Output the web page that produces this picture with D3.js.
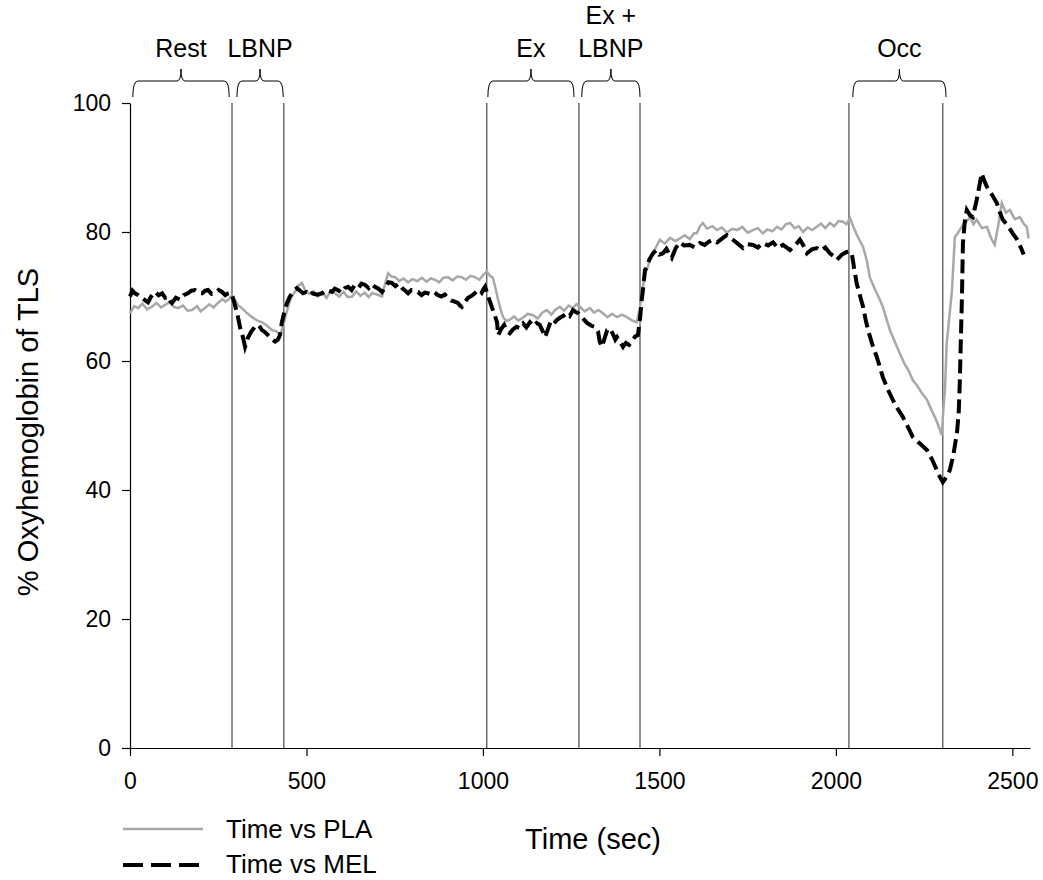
<!DOCTYPE html>
<html>
<head>
<meta charset="utf-8">
<script src="https://cdn.jsdelivr.net/npm/d3@7"></script>
<style>
  body { margin: 0; background: #fff; }
  svg { font-family: Arial, "Liberation Sans", sans-serif; }
  .axis text { font-size: 23px; fill: #000; }
  .axis path, .axis line { stroke: #000; stroke-width: 1.2; }
</style>
</head>
<body>
<div id="chart"></div>
<script>
const width = 1043, height = 880;

// phase boundaries (sec) and bracket labels
const phaseLines = [289, 436, 1011, 1272, 1445, 2037, 2303];
const phaseNames = [['Rest'], ['LBNP'], ['Ex'], ['Ex +', 'LBNP'], ['Occ']];
const phaseStart = [8, 303, 1014, 1280, 2048];
const phaseEnd = [281, 434, 1258, 1445, 2312];

const xTicks = [0, 500, 1000, 1500, 2000, 2500];
const yTicks = [0, 20, 40, 60, 80, 100];

// PLA series (gray, solid)
const plaTime = [0, 12, 23, 35, 48, 62, 75, 88, 99, 112, 124, 136, 150, 163, 176, 190, 200, 212, 225, 237,
  249, 262, 270, 278, 289, 297, 307, 317, 330, 346, 360, 374, 388, 402, 415, 425, 433, 440, 448, 457,
  467, 476, 487, 496, 508, 520, 533, 545, 557, 569, 581, 593, 605, 617, 629, 641, 653, 665, 676, 686,
  700, 714, 722, 731, 741, 751, 763, 775, 788, 800, 814, 827, 840, 852, 864, 876, 888, 901, 914, 927,
  940, 952, 965, 977, 990, 1000, 1011, 1020, 1028, 1036, 1043, 1050, 1057, 1066, 1076, 1088, 1100, 1113, 1127, 1142,
  1155, 1168, 1181, 1194, 1206, 1218, 1230, 1243, 1255, 1265, 1275, 1288, 1303, 1315, 1327, 1340, 1353, 1366, 1380, 1394,
  1408, 1422, 1436, 1445, 1453, 1460, 1467, 1475, 1482, 1490, 1501, 1515, 1530, 1545, 1558, 1572, 1586, 1598, 1606, 1615,
  1623, 1635, 1650, 1663, 1677, 1691, 1706, 1720, 1735, 1750, 1765, 1779, 1793, 1806, 1820, 1833, 1846, 1858, 1870, 1883,
  1895, 1907, 1920, 1933, 1946, 1958, 1970, 1983, 1995, 2008, 2020, 2030, 2040, 2048, 2060, 2077, 2088, 2096, 2110, 2122,
  2133, 2143, 2153, 2167, 2181, 2195, 2207, 2218, 2230, 2244, 2258, 2270, 2283, 2295, 2300, 2305, 2309, 2314, 2320, 2329,
  2337, 2345, 2357, 2368, 2380, 2390, 2399, 2414, 2428, 2440, 2450, 2460, 2470, 2482, 2493, 2507, 2521, 2533, 2541, 2546];
const plaValue = [67.4, 68.5, 68.2, 68.9, 68.0, 68.4, 69.0, 68.3, 68.7, 69.1, 68.4, 68.2, 68.6, 67.8, 67.9, 68.5, 67.7, 68.2, 68.8, 68.3,
  69.0, 69.6, 69.2, 69.5, 70.2, 69.5, 68.6, 68.2, 67.5, 66.8, 66.3, 66.0, 65.5, 64.8, 64.6, 64.0, 65.3, 66.8, 68.4, 69.9,
  70.7, 71.6, 72.1, 71.0, 70.4, 70.8, 70.0, 70.6, 69.8, 70.9, 70.5, 70.0, 70.7, 69.9, 70.0, 70.8, 70.1, 70.6, 69.9, 70.5,
  70.3, 70.0, 71.8, 73.6, 73.1, 73.0, 72.4, 72.8, 72.2, 72.7, 72.4, 72.9, 72.3, 72.8, 72.6, 72.2, 72.9, 73.0, 72.5, 73.1,
  73.0, 72.6, 73.2, 73.0, 72.6, 73.3, 73.9, 73.2, 72.9, 71.2, 69.5, 68.0, 66.8, 66.2, 66.4, 66.9, 66.3, 66.7, 67.3, 67.1,
  66.6, 67.5, 67.9, 67.2, 68.0, 68.4, 67.8, 68.6, 68.2, 68.8, 68.4, 67.7, 68.2, 67.5, 67.9, 67.4, 66.8, 67.3, 66.8, 67.2,
  66.8, 66.3, 66.0, 68.4, 71.5, 73.5, 74.6, 76.1, 76.8, 77.6, 78.8, 78.2, 79.1, 78.6, 79.0, 79.5, 78.9, 79.8, 79.8, 80.9,
  81.4, 80.5, 80.9, 80.3, 80.7, 79.9, 80.5, 80.3, 80.8, 79.9, 80.3, 80.6, 79.8, 80.4, 80.1, 80.8, 80.4, 81.2, 81.4, 80.6,
  80.9, 80.0, 80.7, 80.3, 80.8, 81.3, 80.6, 81.4, 80.9, 81.7, 81.6, 81.2, 82.2, 81.0, 79.5, 77.7, 75.5, 73.0, 71.2, 69.8,
  68.4, 66.6, 64.8, 63.0, 61.2, 59.5, 58.4, 57.0, 56.2, 55.0, 54.0, 52.5, 51.0, 49.3, 48.5, 53.0, 55.5, 62.8, 66.0, 71.0,
  79.2, 79.8, 80.8, 81.5, 82.3, 81.2, 81.9, 80.6, 80.8, 79.0, 78.0, 81.0, 84.5, 83.0, 83.4, 82.0, 82.3, 81.2, 80.8, 79.0];

// MEL series (black, dashed)
const melTime = [0, 7, 14, 24, 34, 43, 51, 60, 71, 81, 91, 100, 108, 114, 119, 130, 142, 152, 164, 174,
  184, 194, 204, 213, 221, 231, 241, 251, 261, 270, 278, 285, 289, 296, 306, 313, 320, 326, 334, 344,
  354, 364, 374, 382, 391, 401, 411, 419, 425, 430, 437, 445, 452, 459, 466, 473, 482, 490, 500, 508,
  516, 530, 544, 558, 572, 580, 589, 600, 609, 618, 628, 637, 648, 656, 666, 676, 685, 694, 704, 714,
  722, 732, 742, 752, 761, 771, 780, 788, 797, 806, 816, 826, 835, 844, 854, 863, 873, 882, 892, 901,
  910, 920, 929, 935, 940, 949, 958, 968, 977, 986, 995, 1000, 1006, 1011, 1018, 1025, 1033, 1040, 1043, 1052,
  1060, 1068, 1076, 1085, 1095, 1105, 1114, 1123, 1133, 1142, 1152, 1161, 1168, 1176, 1184, 1191, 1198, 1208, 1218, 1228,
  1238, 1246, 1255, 1263, 1270, 1275, 1285, 1295, 1306, 1317, 1326, 1331, 1337, 1344, 1352, 1360, 1368, 1375, 1380, 1388,
  1397, 1405, 1414, 1422, 1431, 1439, 1445, 1450, 1455, 1459, 1464, 1472, 1482, 1492, 1500, 1510, 1520, 1528, 1535, 1546,
  1558, 1570, 1586, 1600, 1615, 1628, 1640, 1652, 1664, 1678, 1691, 1700, 1708, 1722, 1737, 1750, 1765, 1779, 1793, 1808,
  1822, 1836, 1850, 1860, 1870, 1884, 1898, 1908, 1918, 1932, 1946, 1958, 1970, 1983, 1993, 2003, 2017, 2031, 2038, 2045,
  2052, 2059, 2068, 2077, 2084, 2091, 2103, 2116, 2125, 2133, 2147, 2161, 2175, 2190, 2204, 2218, 2238, 2258, 2272, 2286,
  2295, 2303, 2313, 2323, 2333, 2343, 2348, 2351, 2354, 2357, 2360, 2365, 2371, 2380, 2388, 2394, 2399, 2406, 2413, 2420,
  2428, 2442, 2456, 2465, 2473, 2487, 2501, 2514, 2527, 2532];
const melValue = [70.0, 70.9, 70.5, 70.2, 69.8, 69.4, 69.1, 70.0, 70.7, 70.2, 70.5, 69.8, 70.0, 69.3, 69.0, 69.8, 69.5, 70.2, 70.5, 70.9,
  71.0, 70.6, 70.5, 70.9, 71.0, 70.4, 70.5, 71.0, 70.7, 70.2, 70.5, 70.6, 70.2, 69.0, 66.8, 64.9, 63.7, 62.2, 63.6, 64.6,
  65.3, 65.6, 64.8, 64.5, 64.0, 63.4, 63.0, 63.3, 64.0, 65.9, 67.5, 69.0, 69.9, 70.5, 71.0, 71.3, 70.9, 70.5, 70.7, 70.2,
  70.5, 70.3, 70.5, 71.0, 70.7, 71.2, 71.0, 70.6, 71.3, 71.5, 71.0, 71.8, 71.4, 72.0, 71.8, 71.3, 71.9, 71.5, 71.2, 70.7,
  71.3, 72.2, 72.1, 71.6, 72.0, 71.3, 70.9, 70.5, 71.0, 70.8, 70.7, 70.2, 70.6, 70.5, 70.3, 70.6, 70.2, 70.0, 70.3, 69.8,
  69.4, 69.2, 69.0, 68.6, 68.4, 69.2, 69.8, 70.1, 70.5, 70.0, 70.4, 71.0, 71.5, 70.7, 69.5, 68.4, 67.2, 66.0, 64.0, 65.0,
  65.6, 64.6, 64.3, 64.9, 65.3, 65.1, 65.8, 65.2, 66.0, 65.4, 65.9, 65.6, 64.8, 63.7, 64.9, 66.0, 65.6, 66.3, 66.7, 67.0,
  67.4, 67.0, 67.9, 67.6, 67.4, 67.1, 66.5, 65.9, 65.5, 65.3, 64.6, 63.0, 62.2, 63.4, 64.8, 65.0, 64.2, 63.3, 63.7, 63.0,
  62.2, 62.8, 62.5, 63.0, 63.8, 64.0, 66.5, 69.5, 71.8, 74.1, 74.5, 75.8, 76.7, 77.2, 76.5, 76.7, 77.4, 76.6, 76.0, 77.5,
  78.4, 77.9, 78.0, 77.6, 78.3, 78.0, 78.5, 78.8, 78.4, 79.0, 79.5, 79.1, 78.8, 78.2, 77.5, 78.1, 78.0, 77.6, 78.3, 77.9,
  78.4, 77.5, 78.0, 77.6, 77.2, 77.9, 78.8, 77.9, 76.7, 77.3, 77.5, 77.1, 77.6, 76.7, 76.3, 75.7, 76.5, 76.9, 77.0, 76.7,
  74.3, 72.0, 70.2, 68.4, 66.5, 64.8, 62.6, 60.6, 59.0, 57.5, 55.6, 54.0, 52.6, 51.3, 49.8, 48.2, 47.2, 46.2, 44.8, 43.1,
  42.0, 41.2, 42.0, 43.1, 45.5, 48.8, 52.0, 56.6, 63.0, 69.5, 78.3, 81.5, 83.4, 82.6, 82.3, 83.8, 85.0, 87.0, 89.1, 88.0,
  87.0, 85.8, 84.5, 83.0, 81.9, 81.0, 79.8, 78.8, 77.2, 76.5];

const margin = { top: 103, left: 130 };
const plotW = 900, plotH = 645;

const svg = d3.select('#chart').append('svg')
  .attr('width', width)
  .attr('height', height);

const x = d3.scaleLinear().domain([0, 2550]).range([0, plotW]);
const y = d3.scaleLinear().domain([0, 100]).range([plotH, 0]);

const g = svg.append('g')
  .attr('transform', `translate(${margin.left},${margin.top})`);

// phase separator lines
g.selectAll('line.phase')
  .data(phaseLines)
  .enter().append('line')
    .attr('class', 'phase')
    .attr('x1', d => x(d)).attr('x2', d => x(d))
    .attr('y1', y(100)).attr('y2', y(0))
    .attr('stroke', '#222')
    .attr('stroke-width', 1);

// axes
g.append('g')
  .attr('class', 'axis')
  .attr('transform', `translate(0,${plotH})`)
  .call(d3.axisBottom(x).tickValues(xTicks).tickFormat(d3.format('d'))
    .tickSize(8).tickSizeOuter(0).tickPadding(17));
g.append('g')
  .attr('class', 'axis')
  .call(d3.axisLeft(y).tickValues(yTicks).tickSize(8).tickSizeOuter(0).tickPadding(11));

// data lines
const line = d3.line().x(d => x(d[0])).y(d => y(d[1]));
const plaData = plaTime.map((t, i) => [t, plaValue[i]]);
const melData = melTime.map((t, i) => [t, melValue[i]]);

g.append('path')
  .datum(plaData)
  .attr('fill', 'none')
  .attr('stroke', '#a8a8a8')
  .attr('stroke-width', 2.5)
  .attr('d', line);

g.append('path')
  .datum(melData)
  .attr('fill', 'none')
  .attr('stroke', '#000')
  .attr('stroke-width', 4)
  .attr('stroke-dasharray', '14,6')
  .attr('d', line);

// phase brackets
const by = -22;
phaseNames.forEach((names, i) => {
  const x0 = x(phaseStart[i]), x1 = x(phaseEnd[i]), xc = (x0 + x1) / 2;
  g.append('path')
    .attr('fill', 'none')
    .attr('stroke', '#000')
    .attr('stroke-width', 1)
    .attr('d', `M${x0},${by + 16} Q${x0},${by} ${x0 + 5},${by} L${xc - 4},${by} Q${xc},${by} ${xc},${by - 12}` +
      ` Q${xc},${by} ${xc + 4},${by} L${x1 - 5},${by} Q${x1},${by} ${x1},${by + 16}`);
  const txt = g.append('text')
    .attr('x', xc)
    .attr('text-anchor', 'middle')
    .style('font-size', '25px');
  names.forEach((n, j) => {
    txt.append('tspan')
      .attr('x', xc)
      .attr('y', by - 24 - (names.length - 1 - j) * 33)
      .text(n);
  });
});

// axis titles
svg.append('text')
  .attr('x', 593).attr('y', 849)
  .attr('text-anchor', 'middle')
  .style('font-size', '29px')
  .text('Time (sec)');
svg.append('text')
  .attr('transform', 'translate(38,432) rotate(-90)')
  .attr('text-anchor', 'middle')
  .style('font-size', '29px')
  .text('% Oxyhemoglobin of TLS');

// legend
const legend = svg.append('g').attr('transform', 'translate(123,829)');
legend.append('line')
  .attr('x1', 0).attr('x2', 80).attr('y1', 0).attr('y2', 0)
  .attr('stroke', '#a8a8a8').attr('stroke-width', 2.5);
legend.append('text')
  .attr('x', 103).attr('y', 9)
  .style('font-size', '26px')
  .text('Time vs PLA');
legend.append('line')
  .attr('x1', 0).attr('x2', 80).attr('y1', 36).attr('y2', 36)
  .attr('stroke', '#000').attr('stroke-width', 4)
  .attr('stroke-dasharray', '20,8');
legend.append('text')
  .attr('x', 103).attr('y', 44)
  .style('font-size', '26px')
  .text('Time vs MEL');
</script>
</body>
</html>
